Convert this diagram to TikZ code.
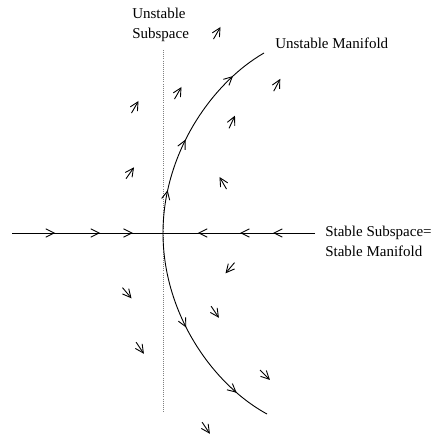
\documentclass[tikz,border=0pt]{standalone}
\usepackage{fontspec}
\setmainfont{Liberation Serif}
\usetikzlibrary{arrows.meta, decorations.markings}

\begin{document}
\begin{tikzpicture}[x=0.6667pt, y=0.6667pt,
  >={Straight Barb[length=5.5pt, width=5.5pt]},
  manifold/.style={line width=0.6pt},
  subspace/.style={gray, line width=0.6pt, dash pattern=on 0.6pt off 0.8pt},
  tip/.style={postaction={decorate, decoration={markings, mark=at position #1 with {\arrow{>}}}}},
  lbl/.style={inner sep=0pt, align=left, font=\fontsize{10}{13.5}\selectfont},
  vec/.style={->, line width=0.6pt}]
  \useasboundingbox (0,0) rectangle (433,-437);
  % axes and subspaces
  \coordinate (O) at (163,-233);
  \coordinate (W) at (12,-233);
  \coordinate (E) at (315,-233);
  \coordinate (sstop) at (163,-50);
  \coordinate (ssbot) at (163,-413);
  \coordinate (utop) at (264,-53);
  \coordinate (ubot) at (267,-414);
  \draw[subspace] (sstop) -- (ssbot);
  \draw[manifold, tip=0.285, tip=0.583, tip=0.8] (W) -- (O);
  \draw[manifold, tip=0.276, tip=0.493, tip=0.77] (E) -- (O);
  % unstable manifold
  \draw[manifold, tip=0.2, tip=0.45, tip=0.82] (O) .. controls (163,-153) and (212,-83) .. (utop);
  \draw[manifold, tip=0.45, tip=0.83] (O) .. controls (163,-313) and (212,-384) .. (ubot);
  % vector field
  \foreach \x/\y/\a in {217/33/60, 277/85/62, 178/93/60, 135/107/60, 232/122/65,
      130/173/55, 223/183/120, 230/268/230, 127/293/-50, 215/312/-56,
      140/348/-56, 265/375/-45, 206/428/-56}
    \draw[vec] (\x,-\y) ++(\a+180:7) -- ++(\a:14);
  % labels
  \node[lbl, anchor=north west] (usub) at (132,-8) {Unstable\\Subspace};
  \node[lbl, anchor=base west] (uman) at (275,-48) {Unstable Manifold};
  \node[lbl, anchor=north west] (sman) at (325,-226) {Stable Subspace=\\Stable Manifold};
\end{tikzpicture}
\end{document}
